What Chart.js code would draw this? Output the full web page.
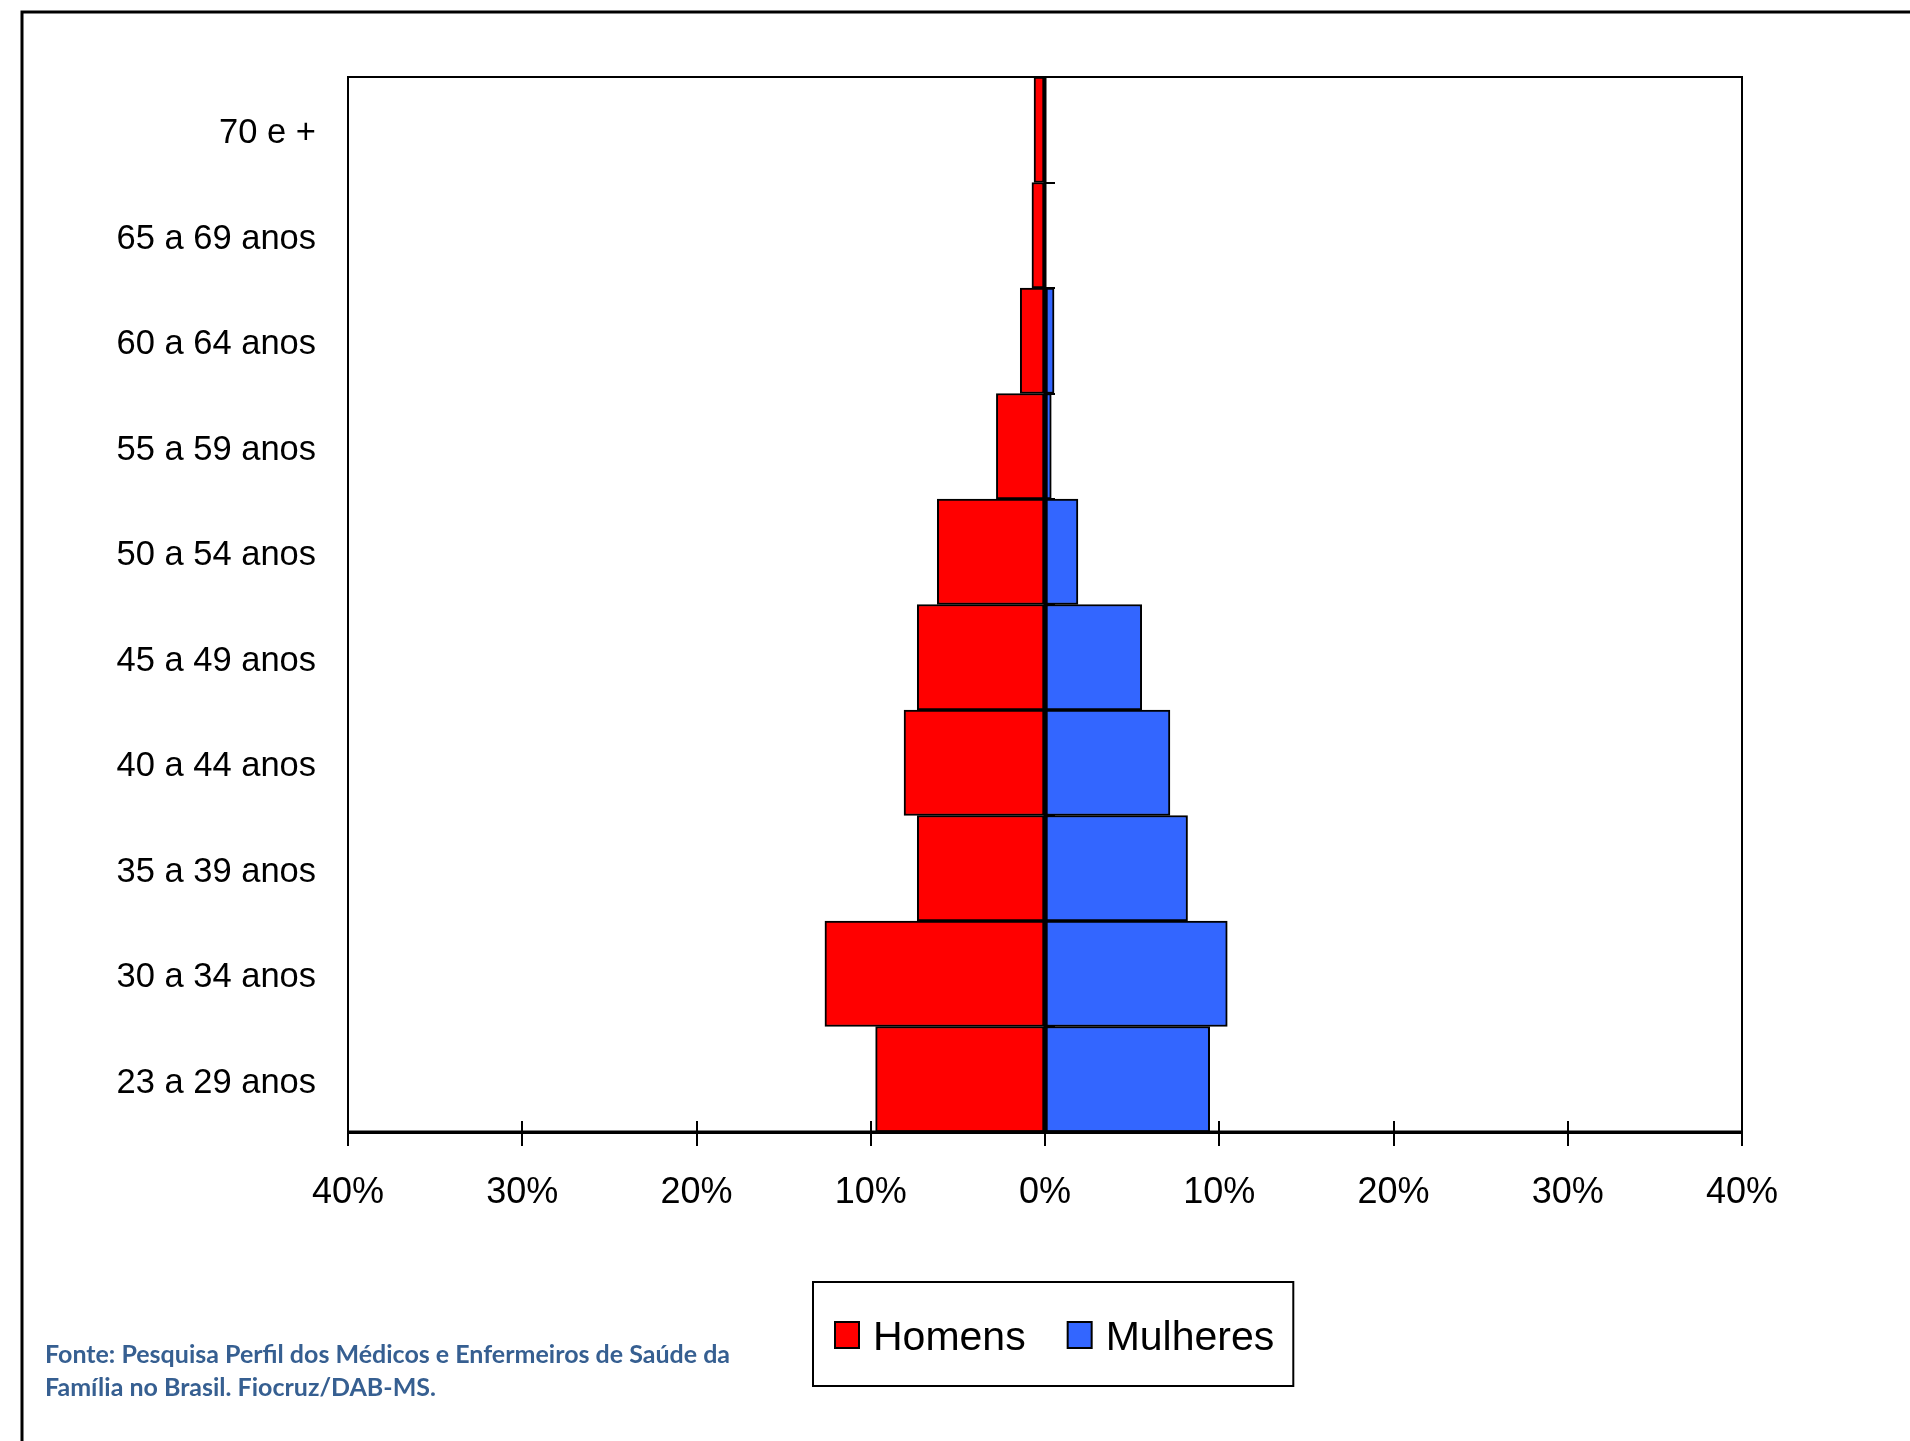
<!DOCTYPE html>
<html>
<head>
<meta charset="utf-8">
<script src="https://cdn.jsdelivr.net/npm/chart.js@4.4.1/dist/chart.umd.min.js"></script>
<style>
  html, body { margin: 0; padding: 0; background: #fff; }
  #wrap { width: 1910px; height: 1441px; position: relative; }
  canvas { display: block; }
</style>
</head>
<body>
<div id="wrap"><canvas id="pyramid" width="1910" height="1441"></canvas></div>
<script>
// Age groups, youngest first (drawn bottom-up)
const ageGroups = ['23 a 29 anos', '30 a 34 anos', '35 a 39 anos', '40 a 44 anos', '45 a 49 anos',
                   '50 a 54 anos', '55 a 59 anos', '60 a 64 anos', '65 a 69 anos', '70 e +'];
// Share of professionals (%) in each age group
const homens   = [9.72, 12.63, 7.33, 8.09, 7.33, 6.18, 2.79, 1.42, 0.75, 0.63];
const mulheres = [9.45, 10.46, 8.18, 7.17, 5.55, 1.89, 0.36, 0.52, 0, 0];
// Horizontal axis ticks (men to the left, women to the right)
const xTicks = [-40, -30, -20, -10, 0, 10, 20, 30, 40];
const seriesNames = ['Homens', 'Mulheres'];
const sourceLines = ['Fonte: Pesquisa Perfil dos Médicos e Enfermeiros de Saúde da',
                     'Família no Brasil. Fiocruz/DAB-MS.'];

const AXIS_FONT = 'Liberation Sans, Arial, sans-serif';

// White page with the outer frame (open to the right and bottom)
const pageFrame = {
  id: 'pageFrame',
  beforeDraw(chart) {
    const ctx = chart.ctx;
    ctx.save();
    ctx.fillStyle = '#fff';
    ctx.fillRect(0, 0, chart.width, chart.height);
    ctx.strokeStyle = '#000';
    ctx.lineWidth = 3;
    ctx.beginPath();
    ctx.moveTo(22, chart.height + 5);
    ctx.lineTo(22, 12);
    ctx.lineTo(chart.width + 5, 12);
    ctx.stroke();
    ctx.restore();
  }
};

// Plot box, zero axis, category tick marks and crossing value ticks
const plotBox = {
  id: 'plotBox',
  afterDatasetsDraw(chart) {
    const { ctx, chartArea: a, scales: { x } } = chart;
    ctx.save();
    ctx.strokeStyle = '#000';
    ctx.lineWidth = 2;
    ctx.strokeRect(a.left, a.top, a.right - a.left, a.bottom - a.top);

    const x0 = Math.round(x.getPixelForValue(0));
    // category boundaries: small marks to the right of the zero axis
    const n = ageGroups.length;
    const band = (a.bottom - a.top) / n;
    ctx.lineWidth = 2;
    ctx.beginPath();
    for (let i = 0; i <= n; i++) {
      const yy = Math.round(a.top + i * band);
      ctx.moveTo(x0, yy);
      ctx.lineTo(x0 + 10, yy);
    }
    ctx.stroke();

    // zero axis
    ctx.lineWidth = 3;
    ctx.beginPath();
    ctx.moveTo(x0, a.top);
    ctx.lineTo(x0, a.bottom);
    ctx.stroke();

    // upper part of the crossing tick marks on the value axis
    ctx.lineWidth = 2;
    ctx.beginPath();
    xTicks.forEach(v => {
      const px = Math.round(x.getPixelForValue(v));
      ctx.moveTo(px, a.bottom - 11);
      ctx.lineTo(px, a.bottom);
    });
    ctx.stroke();

    // heavier bottom axis line
    ctx.lineWidth = 3;
    ctx.beginPath();
    ctx.moveTo(a.left, a.bottom);
    ctx.lineTo(a.right, a.bottom);
    ctx.stroke();
    ctx.restore();
  }
};

// Boxed legend under the plot
const boxedLegend = {
  id: 'boxedLegend',
  afterDraw(chart) {
    const { ctx, chartArea: a } = chart;
    const ds = chart.data.datasets;
    ctx.save();
    ctx.font = '41px ' + AXIS_FONT;
    const padL = 22, padR = 19, sw = 24, gap = 14, itemGap = 42;
    const widths = ds.map(d => ctx.measureText(d.label).width);
    let total = padL + padR;
    widths.forEach((w, i) => { total += sw + gap + w + (i < widths.length - 1 ? itemGap : 0); });
    const cx = (a.left + a.right) / 2 + 8;
    const left = Math.round(cx - total / 2);
    const top = 1282, h = 104;
    ctx.strokeStyle = '#000';
    ctx.lineWidth = 2;
    ctx.strokeRect(left, top, total, h);
    let xx = left + padL;
    const cy = top + h / 2 + 2;
    ds.forEach((d, i) => {
      ctx.fillStyle = d.backgroundColor;
      ctx.fillRect(xx, cy - 14, sw, 26);
      ctx.lineWidth = 2;
      ctx.strokeRect(xx, cy - 14, sw, 26);
      ctx.fillStyle = '#000';
      ctx.textBaseline = 'middle';
      ctx.textAlign = 'left';
      ctx.fillText(d.label, xx + sw + gap, cy + 3);
      xx += sw + gap + widths[i] + itemGap;
    });
    ctx.restore();
  }
};

// Source note, bottom left
const sourceNote = {
  id: 'sourceNote',
  afterDraw(chart) {
    const ctx = chart.ctx;
    ctx.save();
    ctx.font = 'bold 25px Lato, "Open Sans", sans-serif';
    ctx.fillStyle = '#365F91';
    ctx.textAlign = 'left';
    ctx.textBaseline = 'alphabetic';
    ctx.fillText(sourceLines[0], 45, 1363);
    ctx.fillText(sourceLines[1], 45, 1396);
    ctx.restore();
  }
};

new Chart(document.getElementById('pyramid'), {
  type: 'bar',
  data: {
    labels: ageGroups,
    datasets: [
      {
        label: seriesNames[0],
        data: homens.map(v => -v),
        backgroundColor: '#FF0000',
        borderColor: '#000',
        borderWidth: 2,
        borderSkipped: false,
        categoryPercentage: 1,
        barPercentage: 1
      },
      {
        label: seriesNames[1],
        data: mulheres,
        backgroundColor: '#3366FF',
        borderColor: '#000',
        borderWidth: 2,
        borderSkipped: false,
        categoryPercentage: 1,
        barPercentage: 1
      }
    ]
  },
  options: {
    indexAxis: 'y',
    responsive: false,
    animation: false,
    devicePixelRatio: 1,
    layout: { padding: { top: 77, right: 168, left: 0, bottom: 0 } },
    plugins: {
      legend: { display: false },
      tooltip: { enabled: false }
    },
    scales: {
      x: {
        type: 'linear',
        stacked: true,
        min: -40,
        max: 40,
        afterBuildTicks: s => { s.ticks = xTicks.map(v => ({ value: v })); },
        afterFit: s => { s.height = 309; },
        grid: { display: true, drawOnChartArea: false, drawTicks: true, tickLength: 14, color: '#000', lineWidth: 2 },
        border: { display: true, color: '#000', width: 3 },
        ticks: {
          callback: v => Math.abs(v) + '%',
          font: { family: AXIS_FONT, size: 36 },
          color: '#000',
          padding: 25,
          maxRotation: 0,
          autoSkip: false
        }
      },
      y: {
        type: 'category',
        stacked: true,
        reverse: true,
        offset: true,
        afterFit: s => { s.width = 348; },
        grid: { display: false, drawTicks: false },
        border: { display: false },
        ticks: {
          font: { family: AXIS_FONT, size: 34.5 },
          color: '#000',
          padding: 32,
          labelOffset: 4,
          autoSkip: false
        }
      }
    }
  },
  plugins: [pageFrame, plotBox, boxedLegend, sourceNote]
});
</script>
</body>
</html>
